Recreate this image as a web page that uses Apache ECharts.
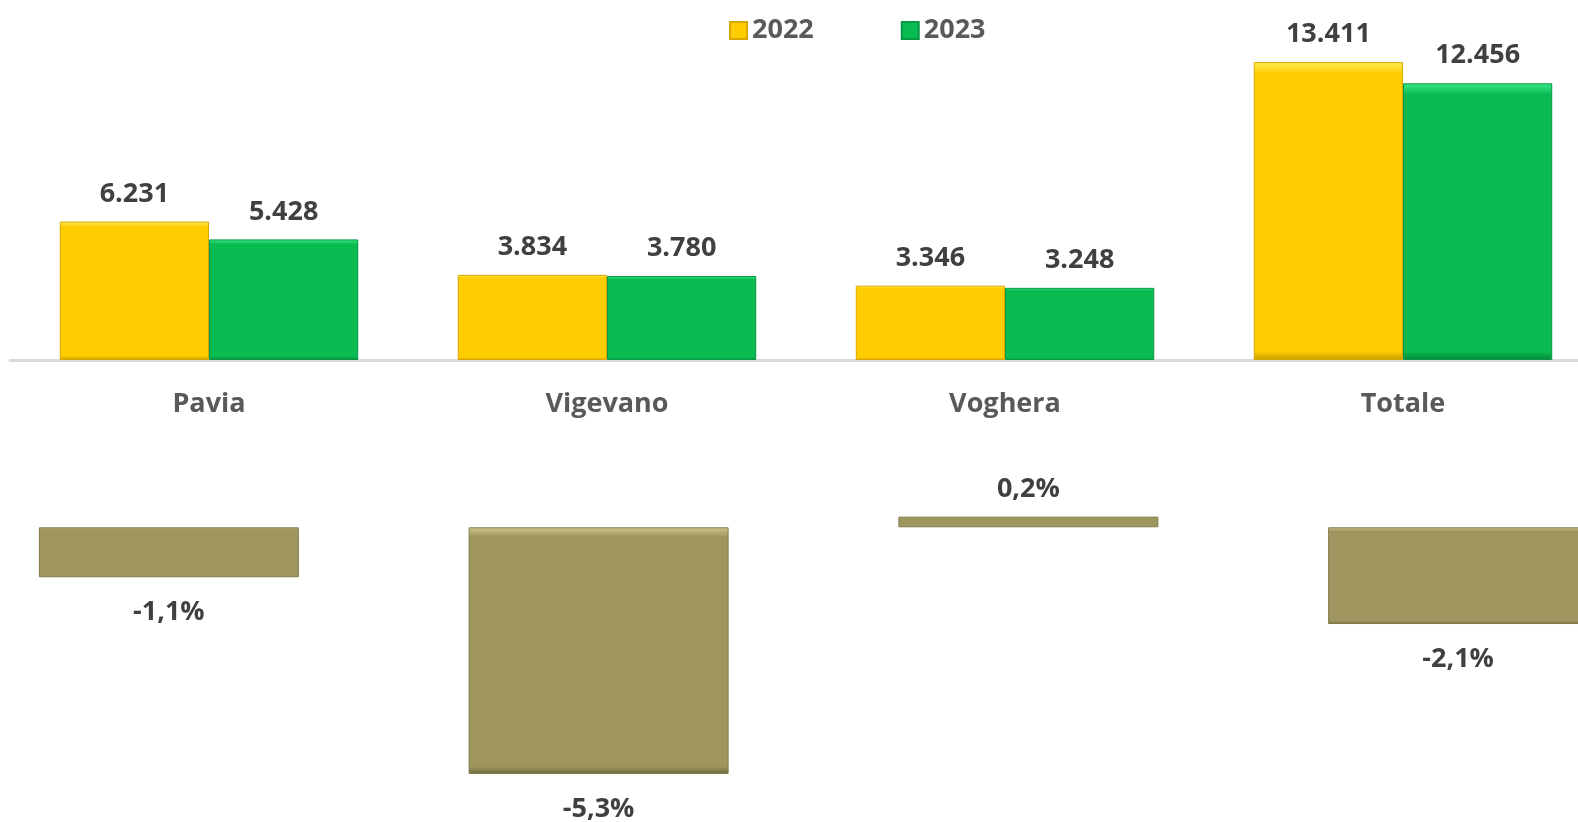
<!DOCTYPE html>
<html>
<head>
<meta charset="utf-8">
<script src="https://cdn.jsdelivr.net/npm/echarts@6/dist/echarts.min.js"></script>
<style>
  html, body { margin: 0; padding: 0; background: #fff; }
  #chart { width: 1578px; height: 822px; }
</style>
</head>
<body>
<div id="chart"></div>
<script>
// dati
var categories = ['Pavia', 'Vigevano', 'Voghera', 'Totale'];
var years = ['2022', '2023'];
var values2022 = [6231, 3834, 3346, 13411];
var values2023 = [5428, 3780, 3248, 12456];
var changePct = [-1.08, -5.33, 0.23, -2.09]; // variazione %

var FONT = '"Open Sans", "Noto Sans", sans-serif';

// colore "smussato": bordo chiaro in alto, scuro in basso
function bevel(light, main, dark) {
    return {
        type: 'linear', x: 0, y: 0, x2: 0, y2: 1,
        colorStops: [
            { offset: 0, color: light },
            { offset: 0.04, color: main },
            { offset: 0.97, color: main },
            { offset: 1, color: dark }
        ]
    };
}

// separatore delle migliaia all'italiana
function fmtInt(v) {
    return String(v).replace(/\B(?=(\d{3})+(?!\d))/g, '.');
}

function fmtPct(v) {
    return v.toFixed(1).replace('.', ',') + '%';
}

var topLabel = {
    show: true,
    position: 'top',
    distance: 14,
    fontFamily: FONT,
    fontWeight: 'bold',
    fontSize: 27,
    color: '#404040',
    formatter: function (p) { return fmtInt(p.value); }
};

var chart = echarts.init(document.getElementById('chart'));

var option = {
    backgroundColor: '#ffffff',
    animation: false,
    legend: {
        data: years,
        left: 724,
        top: 12,
        itemWidth: 17,
        itemHeight: 17,
        itemGap: 87,
        icon: 'rect',
        textStyle: {
            fontFamily: FONT,
            fontWeight: 'bold',
            fontSize: 27,
            color: '#595959'
        }
    },
    grid: [
        { left: 10, right: -24, top: 49, bottom: 462, outerBoundsMode: 'none' },
        { left: -46, right: -95, top: 481, bottom: 17, outerBoundsMode: 'none' }
    ],
    xAxis: [
        {
            type: 'category',
            gridIndex: 0,
            data: categories,
            axisTick: { show: false },
            axisLine: { lineStyle: { color: '#D9D9D9', width: 3 } },
            axisLabel: {
                margin: 31,
                fontFamily: FONT,
                fontWeight: 'bold',
                fontSize: 27,
                color: '#595959'
            }
        },
        {
            type: 'category',
            gridIndex: 1,
            data: categories,
            show: false
        }
    ],
    yAxis: [
        { type: 'value', gridIndex: 0, min: 0, max: 14000, show: false, splitLine: { show: false } },
        { type: 'value', gridIndex: 1, min: -6, max: 1, show: false, splitLine: { show: false } }
    ],
    series: [
        {
            name: '2022',
            type: 'bar',
            xAxisIndex: 0,
            yAxisIndex: 0,
            barGap: '0%',
            barCategoryGap: '25%',
            data: values2022,
            itemStyle: {
                color: bevel('#FFEE55', '#FFCC00', '#C79A00'),
                borderColor: '#D9A800',
                borderWidth: 1
            },
            label: topLabel
        },
        {
            name: '2023',
            type: 'bar',
            xAxisIndex: 0,
            yAxisIndex: 0,
            barGap: '0%',
            barCategoryGap: '25%',
            data: values2023,
            itemStyle: {
                color: bevel('#3CE88A', '#0ABB52', '#07853A'),
                borderColor: '#089944',
                borderWidth: 1
            },
            label: topLabel
        },
        {
            name: 'Variazione',
            type: 'bar',
            xAxisIndex: 1,
            yAxisIndex: 1,
            barCategoryGap: '39.5%',
            data: changePct.map(function (v) {
                return {
                    value: v,
                    label: { position: v < 0 ? 'bottom' : 'top', distance: v < 0 ? 22 : 14 }
                };
            }),
            itemStyle: {
                color: bevel('#CFC690', '#9F955E', '#6E683F'),
                borderColor: '#847C4A',
                borderWidth: 1
            },
            label: {
                show: true,
                fontFamily: FONT,
                fontWeight: 'bold',
                fontSize: 27,
                color: '#404040',
                formatter: function (p) { return fmtPct(p.value); }
            }
        }
    ]
};

chart.setOption(option);
</script>
</body>
</html>
